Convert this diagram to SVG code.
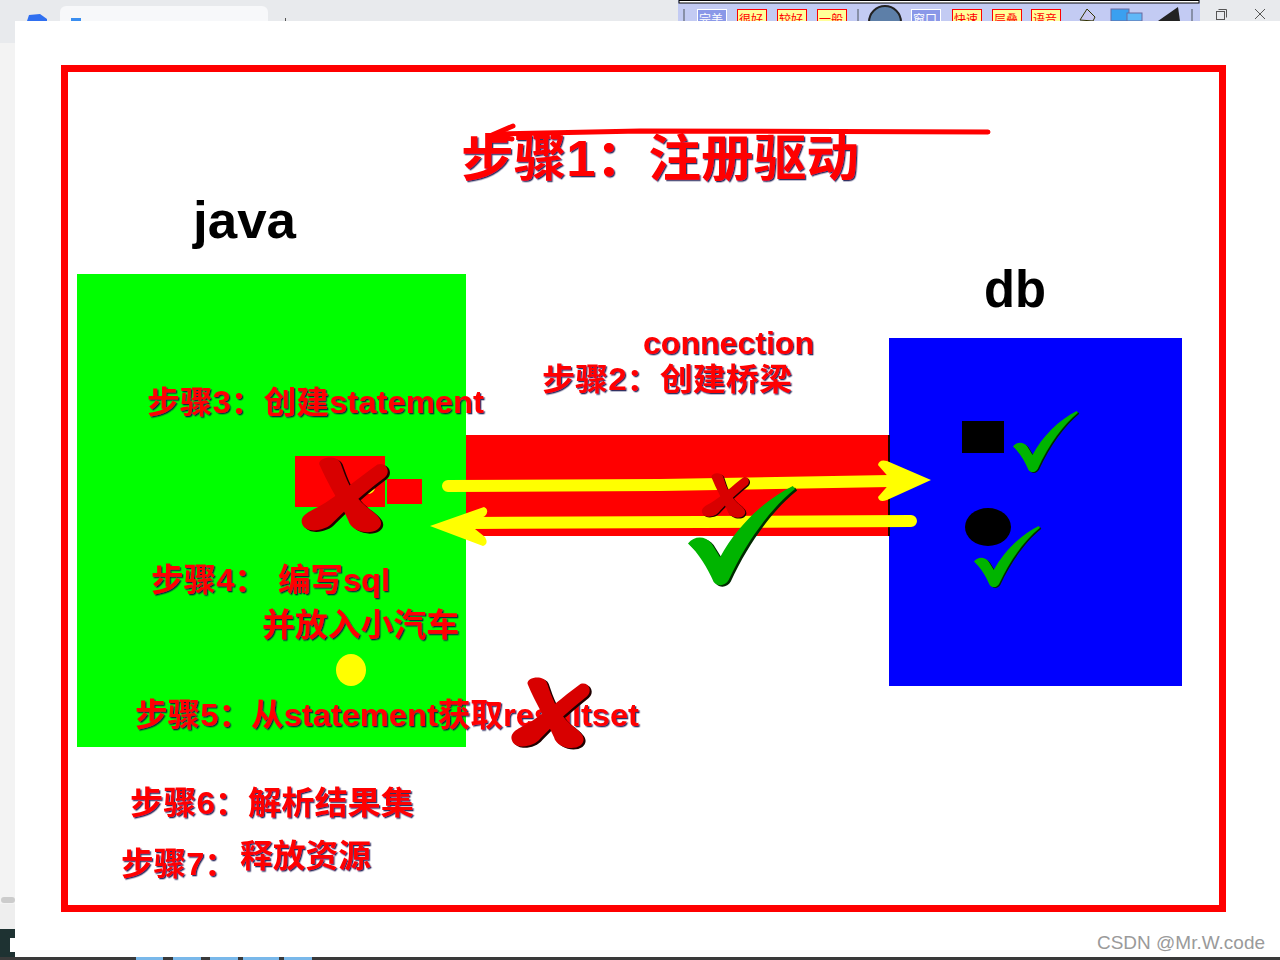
<svg xmlns="http://www.w3.org/2000/svg" xmlns:xlink="http://www.w3.org/1999/xlink" width="1280" height="960" viewBox="0 0 1280 960">
<style>
.t{font-family:"Liberation Sans","Noto Sans CJK SC",sans-serif;font-weight:bold;}
.red{fill:#ff0000;filter:url(#sh);}
.blk{fill:#000000;}
.tb{font-family:"Noto Sans CJK SC",sans-serif;font-size:12px;}
.btnY{fill:#ffff99;stroke:#ff0000;stroke-width:1;}
.btnB{fill:#8a98e8;stroke:#ffffff;stroke-width:1;}
.arrow{fill:none;stroke:#ffff00;stroke-width:12;stroke-linecap:round;}
.head{fill:#ffff00;}
</style>
<defs>
<filter id="sh" x="-5%" y="-10%" width="110%" height="130%">
<feDropShadow dx="1.3" dy="1.3" stdDeviation="0.3" flood-color="#10104a" flood-opacity="0.85"/>
</filter>
<symbol id="xmark" viewBox="0 0 100 100" preserveAspectRatio="none" overflow="visible">
<g fill="#200000" transform="translate(2.5,2)">
<path d="M22,10 C20,0 42,-4 46,8 C52,28 58,50 76,68 C88,78 98,88 88,98 C78,106 58,100 55,86 C46,62 32,38 22,10 Z"/>
<path d="M88,10 C98,6 104,20 96,28 C76,46 56,66 38,88 C30,100 8,104 3,92 C-2,80 10,74 20,68 C44,52 66,28 88,10 Z"/>
</g>
<g fill="#d80000">
<path d="M22,10 C20,0 42,-4 46,8 C52,28 58,50 76,68 C88,78 98,88 88,98 C78,106 58,100 55,86 C46,62 32,38 22,10 Z"/>
<path d="M88,10 C98,6 104,20 96,28 C76,46 56,66 38,88 C30,100 8,104 3,92 C-2,80 10,74 20,68 C44,52 66,28 88,10 Z"/>
</g>
</symbol>
<symbol id="check" viewBox="0 0 100 100" preserveAspectRatio="none" overflow="visible">
<path transform="translate(2,1.5)" fill="#002a00" d="M0,58 C6,50 16,50 22,58 L30,72 C45,42 70,15 98,0 L100,3 C78,22 55,55 38,95 C35,101 28,102 24,97 C18,82 10,68 0,58 Z"/>
<path fill="#00b400" d="M0,58 C6,50 16,50 22,58 L30,72 C45,42 70,15 98,0 L100,3 C78,22 55,55 38,95 C35,101 28,102 24,97 C18,82 10,68 0,58 Z"/>
</symbol>
</defs>

<!-- browser chrome -->
<g id="chrome">
<rect x="0" y="0" width="1280" height="960" fill="#e8eaed"/>
<rect x="60" y="6" width="208" height="30" rx="6" fill="#f7f8fa"/>
<path d="M27,21 L29,15 L40,14 L47,19 L47,21 Z" fill="#2f6ff0"/>
<rect x="71" y="18" width="10" height="4" fill="#3a8ef0"/>
<rect x="285" y="18" width="1" height="4" fill="#555555"/>
<rect x="678" y="0" width="522" height="21" fill="#c3cbf3"/>
<rect x="679" y="0.5" width="520" height="2.5" fill="#ffffff" stroke="#000000" stroke-width="1"/>
<g fill="#8890a8">
<rect x="683" y="9" width="2" height="12"/><rect x="857" y="9" width="2" height="12"/><rect x="1191" y="9" width="2" height="12"/>
</g>
<rect class="btnB" x="697.5" y="9.5" width="29" height="14"/>
<rect class="btnY" x="737.5" y="9.5" width="29" height="14"/>
<rect class="btnY" x="777.5" y="9.5" width="29" height="14"/>
<rect class="btnY" x="817.5" y="9.5" width="29" height="14"/>
<circle cx="885" cy="22" r="16" fill="#5d7fa8" stroke="#222222" stroke-width="2"/>
<rect class="btnB" x="911.5" y="9.5" width="29" height="14"/>
<rect class="btnY" x="952.5" y="9.5" width="29" height="14"/>
<rect class="btnY" x="992.5" y="9.5" width="29" height="14"/>
<rect class="btnY" x="1031.5" y="9.5" width="29" height="14"/>
<text class="tb" x="699" y="24" fill="#ffffff">完美</text>
<text class="tb" x="739" y="24" fill="#ff0000">很好</text>
<text class="tb" x="779" y="24" fill="#ff0000">较好</text>
<text class="tb" x="819" y="24" fill="#ff0000">一般</text>
<text class="tb" x="913" y="24" fill="#ffffff">窗口</text>
<text class="tb" x="954" y="24" fill="#ff0000">快速</text>
<text class="tb" x="994" y="24" fill="#ff0000">层叠</text>
<text class="tb" x="1033" y="24" fill="#ff0000">语音</text>
<path d="M1080,20 L1087,9 L1095,17 L1093,21 Z" fill="#c8c8f0" stroke="#333300" stroke-width="1"/>
<rect x="1111" y="9" width="18" height="12" fill="#3aa0f0" stroke="#6a6aa0"/>
<rect x="1127" y="13" width="15" height="8" fill="#60b8f8" stroke="#6a6aa0"/>
<path d="M1158,21 L1178,7 L1180,21 Z" fill="#222222"/>
<rect x="1216.5" y="11.5" width="8" height="8" fill="none" stroke="#555555"/>
<path d="M1218.5,9.5 H1226.5 V17.5" fill="none" stroke="#555555"/>
<path d="M1255,9 L1265,19 M1265,9 L1255,19" stroke="#555555" stroke-width="1"/>
<rect x="0" y="43" width="15" height="886" fill="#f3f3f3"/>
<rect x="1" y="897" width="14" height="6" rx="3" fill="#cccccc"/>
<rect x="0" y="904" width="15" height="25" fill="#eeeeee"/>
<rect x="0" y="929" width="15" height="31" fill="#1e3232"/>
<rect x="10" y="938" width="5" height="14" fill="#ffffff"/>
<rect x="0" y="957" width="1280" height="3" fill="#3a3a3a"/>
<g fill="#79b8ea">
<rect x="136" y="957" width="27" height="3"/><rect x="173" y="957" width="28" height="3"/><rect x="210" y="957" width="28" height="3"/><rect x="243" y="957" width="36" height="3"/><rect x="284" y="957" width="28" height="3"/>
</g>
<rect x="15" y="21" width="1265" height="936" fill="#ffffff"/>
</g>

<!-- slide frame -->
<rect id="frame" x="64.5" y="68.5" width="1158" height="840" fill="none" stroke="#ff0000" stroke-width="7"/>

<!-- title -->
<g id="title">
<text class="t red" x="461" y="176" font-size="50" textLength="398" lengthAdjust="spacingAndGlyphs">步骤1：注册驱动</text>
</g>

<!-- java node -->
<g id="java">
<text class="t blk" x="193" y="238" font-size="52" textLength="103" lengthAdjust="spacingAndGlyphs">java</text>
<rect x="77" y="274" width="389" height="473" fill="#00ff00"/>
</g>

<!-- db node -->
<g id="db">
<text class="t blk" x="984" y="307" font-size="51" textLength="62" lengthAdjust="spacingAndGlyphs">db</text>
<rect x="889" y="338" width="293" height="348" fill="#0000ff"/>
<rect x="962" y="421" width="42" height="32" fill="#000000"/>
<ellipse cx="988" cy="527" rx="23" ry="19" fill="#000000"/>
</g>

<!-- bridge (connection) -->
<g id="bridge">
<rect x="466" y="435" width="423" height="101" fill="#ff0000"/>
<rect x="888" y="435" width="2" height="101" fill="#200000"/>
<text class="t red" x="643" y="354" font-size="32" textLength="171" lengthAdjust="spacingAndGlyphs">connection</text>
<text class="t red" x="542" y="390" font-size="31" textLength="250" lengthAdjust="spacingAndGlyphs">步骤2：创建桥梁</text>
</g>

<!-- statement -->
<g id="statement">
<rect x="295" y="456" width="90" height="51" fill="#ff0000"/>
<rect x="387" y="479" width="35" height="25" fill="#ff0000"/>
<ellipse cx="368" cy="487" rx="7" ry="7" fill="#ffff00"/>
<text class="t red" x="147" y="413" font-size="31" textLength="337" lengthAdjust="spacingAndGlyphs">步骤3：创建statement</text>
</g>

<!-- step texts -->
<g id="step4">
<text class="t red" x="151" y="591" font-size="32" textLength="116" lengthAdjust="spacingAndGlyphs">步骤4：</text>
<text class="t red" x="278" y="591" font-size="32" textLength="112" lengthAdjust="spacingAndGlyphs">编写sql</text>
<text class="t red" x="262" y="636" font-size="32" textLength="197" lengthAdjust="spacingAndGlyphs">并放入小汽车</text>
<ellipse cx="351" cy="670" rx="15" ry="16" fill="#ffff00"/>
</g>
<g id="step5">
<text class="t red" x="135" y="726" font-size="32" textLength="504" lengthAdjust="spacingAndGlyphs">步骤5：从statement获取resultset</text>
</g>
<g id="step6">
<text class="t red" x="130" y="814" font-size="32" textLength="284" lengthAdjust="spacingAndGlyphs">步骤6：解析结果集</text>
</g>
<g id="step7">
<text class="t red" x="121" y="875" font-size="32" textLength="116" lengthAdjust="spacingAndGlyphs">步骤7：</text>
<text class="t red" x="240" y="867" font-size="32" textLength="131" lengthAdjust="spacingAndGlyphs">释放资源</text>
</g>

<!-- connectors -->
<g id="connectors">
<path d="M988,132 L640,131 L500,134" fill="none" stroke="#ff0000" stroke-width="5" stroke-linecap="round"/>
<path d="M513,126 L492,135 L512,139" fill="none" stroke="#ff0000" stroke-width="5" stroke-linecap="round" stroke-linejoin="round"/>
<path class="arrow" d="M448,486 L660,485 L890,481"/>
<path class="head" d="M878,465 Q879,459 887,461 L931,480 L887,500 Q879,503 878,497 L892,481 Z"/>
<path class="arrow" d="M911,521 L700,522 L470,523"/>
<path class="head" d="M484,507 Q490,510 485,516 L470,525 L485,537 Q489,544 483,546 L430,526 Z"/>
</g>

<!-- marks -->
<g id="marks">
<use xlink:href="#xmark" x="300" y="457" width="88" height="74"/>
<use xlink:href="#xmark" x="701" y="473" width="48" height="44"/>
<use xlink:href="#check" x="688" y="486" width="107" height="99"/>
<use xlink:href="#check" x="1013" y="411" width="65" height="61"/>
<use xlink:href="#check" x="974" y="526" width="66" height="61"/>
<use xlink:href="#xmark" x="510" y="677" width="80" height="70"/>
</g>

<text id="watermark" x="1097" y="949" font-family="Liberation Sans Narrow, Liberation Sans, sans-serif" font-size="19" fill="#9a9a9a" textLength="168" lengthAdjust="spacingAndGlyphs">CSDN @Mr.W.code</text>
</svg>
